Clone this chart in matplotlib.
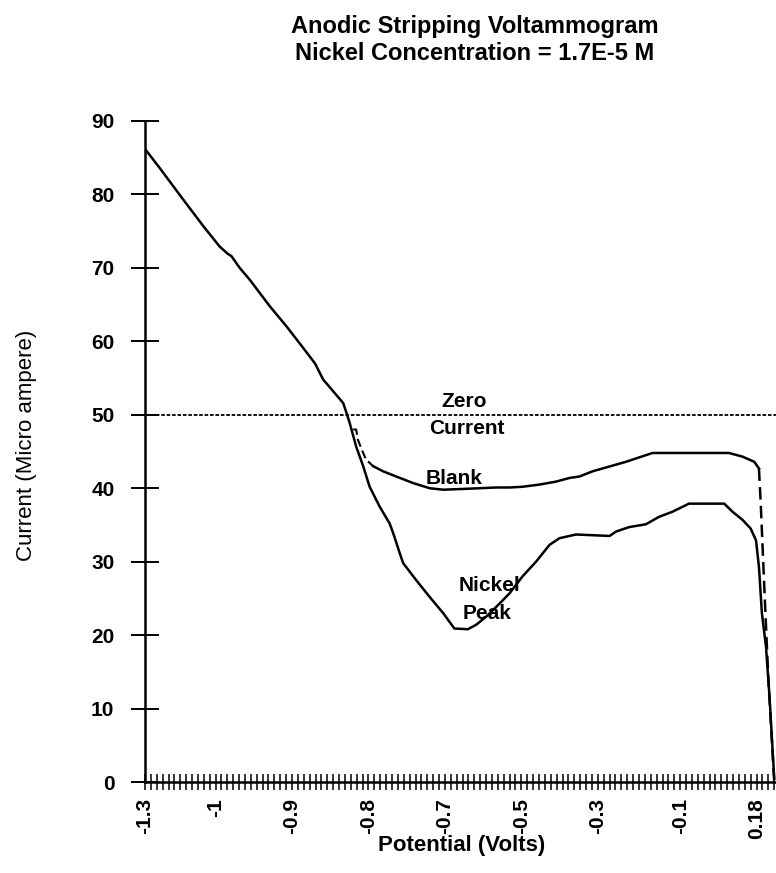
import matplotlib
matplotlib.use("Agg")
import matplotlib.pyplot as plt
import numpy as np

# ---- data (category index along the potential axis, current in micro ampere) ----
nickel_idx = [0, 2.5, 6.5, 9.9, 12.7, 14.1, 14.7, 16.1, 17.8, 21.2, 24.1, 26.9, 28.9, 30.3, 32, 33.7,
              34.2, 34.8, 35.9, 37.1, 38.2, 39.9, 41.6, 42.2, 43.3, 43.9, 46.1, 48.4, 50.7, 52.6, 54.9,
              56.3, 58, 60.3, 62, 64.2, 66.5, 68.8, 70.5, 73.3, 79, 80.1, 82.3, 85.2, 87.4, 89.7, 92.5,
              98.5, 99.9, 101.6, 103, 103.9, 104.4, 104.9, 105.6, 106.2, 107]
nickel_val = [86.2, 83.6, 79.3, 75.7, 72.9, 71.9, 71.6, 70, 68.4, 64.8, 62, 59.1, 57, 54.8, 53.2, 51.6,
              50.4, 48.9, 45.7, 43, 40.2, 37.5, 35.2, 33.9, 31.2, 29.8, 27.5, 25.2, 23, 20.9, 20.8,
              21.4, 22.5, 24.3, 25.7, 28, 30, 32.3, 33.2, 33.7, 33.5, 34.1, 34.7, 35.1, 36.1, 36.8, 37.9,
              37.9, 36.8, 35.7, 34.5, 32.9, 29.3, 23, 18.4, 11.6, 0.5]

blank_start_idx = [35.4, 35.9, 36.2, 37.1, 37.6, 38.8]
blank_start_val = [48, 48, 46.6, 44.8, 43.9, 43]
blank_mid_idx = [38.8, 40.5, 42.7, 45.6, 48.4, 50.7, 54, 56.9, 59.7, 62, 64.2, 67.1, 69.9, 72.2, 73.9,
                 76.1, 81.8, 86.3, 99.3, 101.6, 103.6, 104.4]
blank_mid_val = [43, 42.3, 41.6, 40.7, 40, 39.8, 39.9, 40, 40.1, 40.1, 40.2, 40.5, 40.9, 41.4, 41.6,
                 42.3, 43.6, 44.8, 44.8, 44.3, 43.6, 42.7]
blank_end_idx = [104.4, 104.7, 105.5, 106, 107]
blank_end_val = [42.7, 38, 23, 14, 0]

zero_current = 50

xtick_idx = [0, 12, 25, 38, 51, 64, 77, 91, 104]
xtick_labels = ["-1.3", "-1", "-0.9", "-0.8", "-0.7", "-0.5", "-0.3", "-0.1", "0.18"]
n_categories = 108
yticks = [0, 10, 20, 30, 40, 50, 60, 70, 80, 90]

# ---- figure ----
W, H = 776, 873
fig = plt.figure(figsize=(W / 100, H / 100), dpi=100)
left, right, bottom, top = 145, 776, 782, 121
ax = fig.add_axes([left / W, 1 - bottom / H, (right - left) / W, (bottom - top) / H])

ax.plot(nickel_idx, nickel_val, color="black", lw=1.8, solid_joinstyle="round")
ax.plot(blank_start_idx, blank_start_val, color="black", lw=1.5, ls=(0, (4, 2)))
ax.plot(blank_mid_idx, blank_mid_val, color="black", lw=1.8)
ax.plot(blank_end_idx, blank_end_val, color="black", lw=1.8, ls=(0, (5, 2.5)))
ax.axhline(zero_current, color="black", lw=1.3, ls=(0, (2, 1)))

ax.set_xlim(0, 107.3)
ax.set_ylim(0, 90)
for s in ["top", "right"]:
    ax.spines[s].set_visible(False)
ax.spines["left"].set_linewidth(1.8)
ax.spines["bottom"].set_linewidth(1.8)

bold = dict(family=["Liberation Sans", "DejaVu Sans"], fontweight="bold")
narrow = ["Liberation Sans Narrow", "Liberation Sans", "DejaVu Sans"]

ax.set_yticks(yticks)
ax.set_yticklabels([str(v) for v in yticks], **bold, fontsize=15)
ax.tick_params(axis="y", direction="inout", length=20, width=1.4, pad=12)

ax.set_xticks(np.arange(n_categories), minor=True)
ax.set_xticks(xtick_idx)
ax.set_xticklabels(xtick_labels, rotation=90, fontsize=15, family=narrow, fontweight="bold")
ax.tick_params(axis="x", which="both", direction="inout", length=11, width=1.1, pad=6)

# annotations
txt = dict(ha="center", va="center", fontsize=15, color="black", **bold)
ax.text(54.3, 51.8, "Zero", **txt)
ax.text(54.7, 48.1, "Current", **txt)
ax.text(52.5, 41.3, "Blank", **txt)
ax.text(58.6, 26.8, "Nickel", **txt)
ax.text(58.2, 22.9, "Peak", **txt)

fig.text(475 / W, 1 - 26 / H, "Anodic Stripping Voltammogram", ha="center", va="center", fontsize=17, **bold)
fig.text(475 / W, 1 - 54 / H, "Nickel Concentration = 1.7E-5 M", ha="center", va="center", fontsize=17, **bold)
fig.text(462 / W, 1 - 845 / H, "Potential (Volts)", ha="center", va="center", fontsize=16, **bold)
fig.text(27 / W, 1 - 445 / H, "Current (Micro ampere)", ha="center", va="center", rotation=90,
         fontsize=16, family=narrow)

fig.savefig("out.png", dpi=100)
